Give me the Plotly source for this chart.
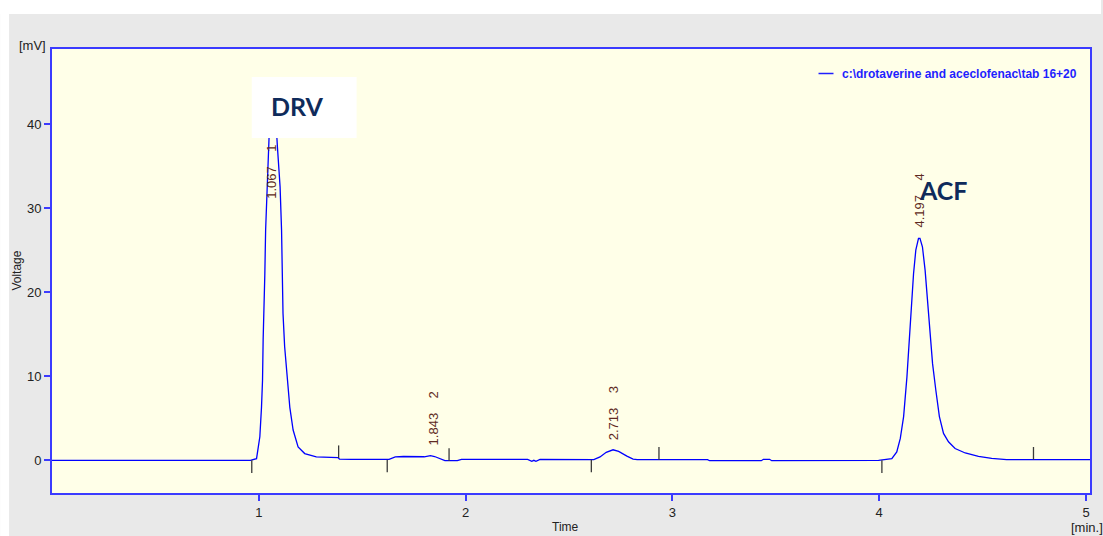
import plotly.graph_objects as go

# ---------------- data ----------------
time_min = [0.0, 0.96, 0.989, 1.005, 1.013, 1.018, 1.021, 1.026, 1.029, 1.033, 1.041, 1.047,
            1.055, 1.067, 1.079, 1.090, 1.103, 1.110, 1.113, 1.117, 1.125, 1.137, 1.150,
            1.166, 1.190, 1.222, 1.278, 1.383, 1.39, 1.45, 1.63, 1.66, 1.70, 1.80, 1.83,
            1.85, 1.88, 1.90, 1.96, 1.98, 2.30, 2.32, 2.33, 2.34, 2.36, 2.62, 2.65,
            2.68, 2.713, 2.74, 2.78, 2.81, 2.83, 3.17, 3.18, 3.43, 3.44, 3.47, 3.48,
            3.997, 4.061, 4.085, 4.102, 4.118, 4.134, 4.145, 4.155, 4.166, 4.177, 4.190,
            4.197, 4.209, 4.222, 4.235, 4.247, 4.258, 4.274, 4.291, 4.311, 4.335, 4.367,
            4.416, 4.480, 4.544, 4.616, 5.03]
voltage_mv = [0.0, 0.0, 0.2, 2.8, 6.3, 9.5, 14.3, 18.5, 22.0, 27.4, 32.5, 37.3,
              42.0, 44.5, 42.0, 37.3, 32.5, 27.4, 21.4, 17.5, 13.5, 9.5, 6.3,
              3.6, 1.6, 0.8, 0.4, 0.32, 0.15, 0.12, 0.12, 0.4, 0.45, 0.42, 0.55,
              0.45, 0.2, -0.04, -0.04, 0.12, 0.1, -0.12, 0.0, -0.12, 0.1, 0.08, 0.4,
              0.95, 1.25, 1.05, 0.5, 0.15, 0.08, 0.08, -0.05, -0.05, 0.12, 0.12, -0.05,
              0.0, 0.2, 1.0, 2.6, 5.2, 9.9, 14.3, 18.7, 22.2, 25.0, 26.4,
              26.4, 25.4, 22.6, 18.3, 14.7, 11.5, 8.3, 5.2, 3.2, 2.2, 1.4,
              0.87, 0.48, 0.24, 0.08, 0.08]

peak_rt = ["1.067", "1.843", "2.713", "4.197"]
peak_no = ["1", "2", "3", "4"]
peak_label_t = [1.063, 1.843, 2.715, 4.197]
peak_label_mv = [34.3, 5.0, 5.65, 30.9]

# integration start (down) and end (up) markers: time, baseline value
mark_start_t = [0.966, 1.621, 2.608, 4.013]
mark_start_mv = [0.0, 0.08, 0.08, 0.0]
mark_end_t = [1.386, 1.920, 2.935, 4.746]
mark_end_mv = [0.27, -0.08, 0.08, 0.08]
MARK_LEN = 1.5

x_ticks = [1, 2, 3, 4, 5]
y_ticks = [0, 10, 20, 30, 40]
legend_text = "c:\\drotaverine and aceclofenac\\tab 16+20"
compound_names = ["DRV", "ACF"]
compound_t = [1.189, 4.311]
compound_mv = [42.1, 32.1]

# ---------------- figure ----------------
W, H = 1103, 536
L, R, T, B = 52, 11, 49, 43
PW, PH = W - L - R, H - T - B


def px(xp):
    return (xp - L) / PW


def py(yp):
    return (H - B - yp) / PH


AXC = "#3b3bff"
NARROW = "Liberation Sans Narrow, Arial Narrow, Liberation Sans, sans-serif"

fig = go.Figure()
fig.add_trace(go.Scatter(x=time_min, y=voltage_mv, mode="lines",
                         line=dict(color="#0000ff", width=1.3), showlegend=False,
                         hoverinfo="skip"))

mx, my = [], []
for t, b in zip(mark_start_t, mark_start_mv):
    mx += [t, t, None]
    my += [b, b - MARK_LEN, None]
for t, b in zip(mark_end_t, mark_end_mv):
    mx += [t, t, None]
    my += [b, b + MARK_LEN, None]
fig.add_trace(go.Scatter(x=mx, y=my, mode="lines", line=dict(color="#3a3a3a", width=1.3),
                         showlegend=False, hoverinfo="skip"))

shapes = [
    # white strips around the grey panel
    dict(type="rect", xref="paper", yref="paper", x0=px(0), x1=px(9), y0=py(H), y1=py(0),
         fillcolor="white", line_width=0, layer="above"),
    dict(type="rect", xref="paper", yref="paper", x0=px(0), x1=px(W), y0=py(14), y1=py(0),
         fillcolor="white", line_width=0, layer="above"),
    # white box behind DRV
    dict(type="rect", xref="x", yref="y", x0=0.966, x1=1.473, y0=38.33, y1=45.6,
         fillcolor="white", line_width=0, layer="above"),
    # legend line sample
    dict(type="line", xref="paper", yref="paper", x0=px(820), x1=px(835), y0=py(73.5), y1=py(73.5),
         line=dict(color="#1f1fff", width=1.5)),
]

annotations = []
for rt, no, t, v in zip(peak_rt, peak_no, peak_label_t, peak_label_mv):
    annotations.append(dict(x=t, y=v, xref="x", yref="y", showarrow=False, textangle=-90,
                            text=rt + "\u00a0\u00a0\u00a0\u00a0" + no,
                            font=dict(family="Liberation Sans, Arial, sans-serif", size=13,
                                      color="#5e2a22"),
                            xanchor="center", yanchor="middle"))
for name, t, v in zip(compound_names, compound_t, compound_mv):
    annotations.append(dict(x=t, y=v, xref="x", yref="y", showarrow=False,
                            text="<b>" + name + "</b>",
                            font=dict(family="Lato, Open Sans, sans-serif", size=25, color="#0f2b5b"),
                            xanchor="center", yanchor="middle"))
annotations += [
    dict(x=px(841.5), y=py(73.5), xref="paper", yref="paper", showarrow=False,
         text="<b>" + legend_text + "</b>", xanchor="left", yanchor="middle",
         font=dict(family=NARROW, size=12, color="#1f1fff")),
    dict(x=px(32), y=py(45), xref="paper", yref="paper", showarrow=False, text="[mV]",
         font=dict(family=NARROW, size=13, color="#222"), xanchor="center", yanchor="middle"),
    dict(x=px(16.5), y=py(271), xref="paper", yref="paper", showarrow=False, text="Voltage",
         textangle=-90, font=dict(family=NARROW, size=12, color="#222"),
         xanchor="center", yanchor="middle"),
    dict(x=px(566), y=py(527), xref="paper", yref="paper", showarrow=False, text="Time",
         font=dict(family=NARROW, size=12, color="#222"), xanchor="center", yanchor="middle"),
    dict(x=px(1089), y=py(527), xref="paper", yref="paper", showarrow=False, text="[min.]",
         font=dict(family=NARROW, size=13, color="#222"), xanchor="center", yanchor="middle"),
]

axis_common = dict(showline=True, linecolor=AXC, linewidth=2, mirror=True, ticks="outside",
                   ticklen=6, tickcolor=AXC, tickwidth=1.5, showgrid=False, zeroline=False,
                   tickfont=dict(family=NARROW, size=13, color="#222"))

fig.update_layout(
    width=W, height=H, margin=dict(l=L, r=R, t=T, b=B),
    paper_bgcolor="#e9e9e9", plot_bgcolor="#ffffe8",
    xaxis=dict(range=[0, PW / 207.2], tickvals=x_ticks, **axis_common),
    yaxis=dict(range=[-3.89, 48.93], tickvals=y_ticks, **axis_common),
    shapes=shapes, annotations=annotations, showlegend=False,
)

fig.write_html("out.html")
